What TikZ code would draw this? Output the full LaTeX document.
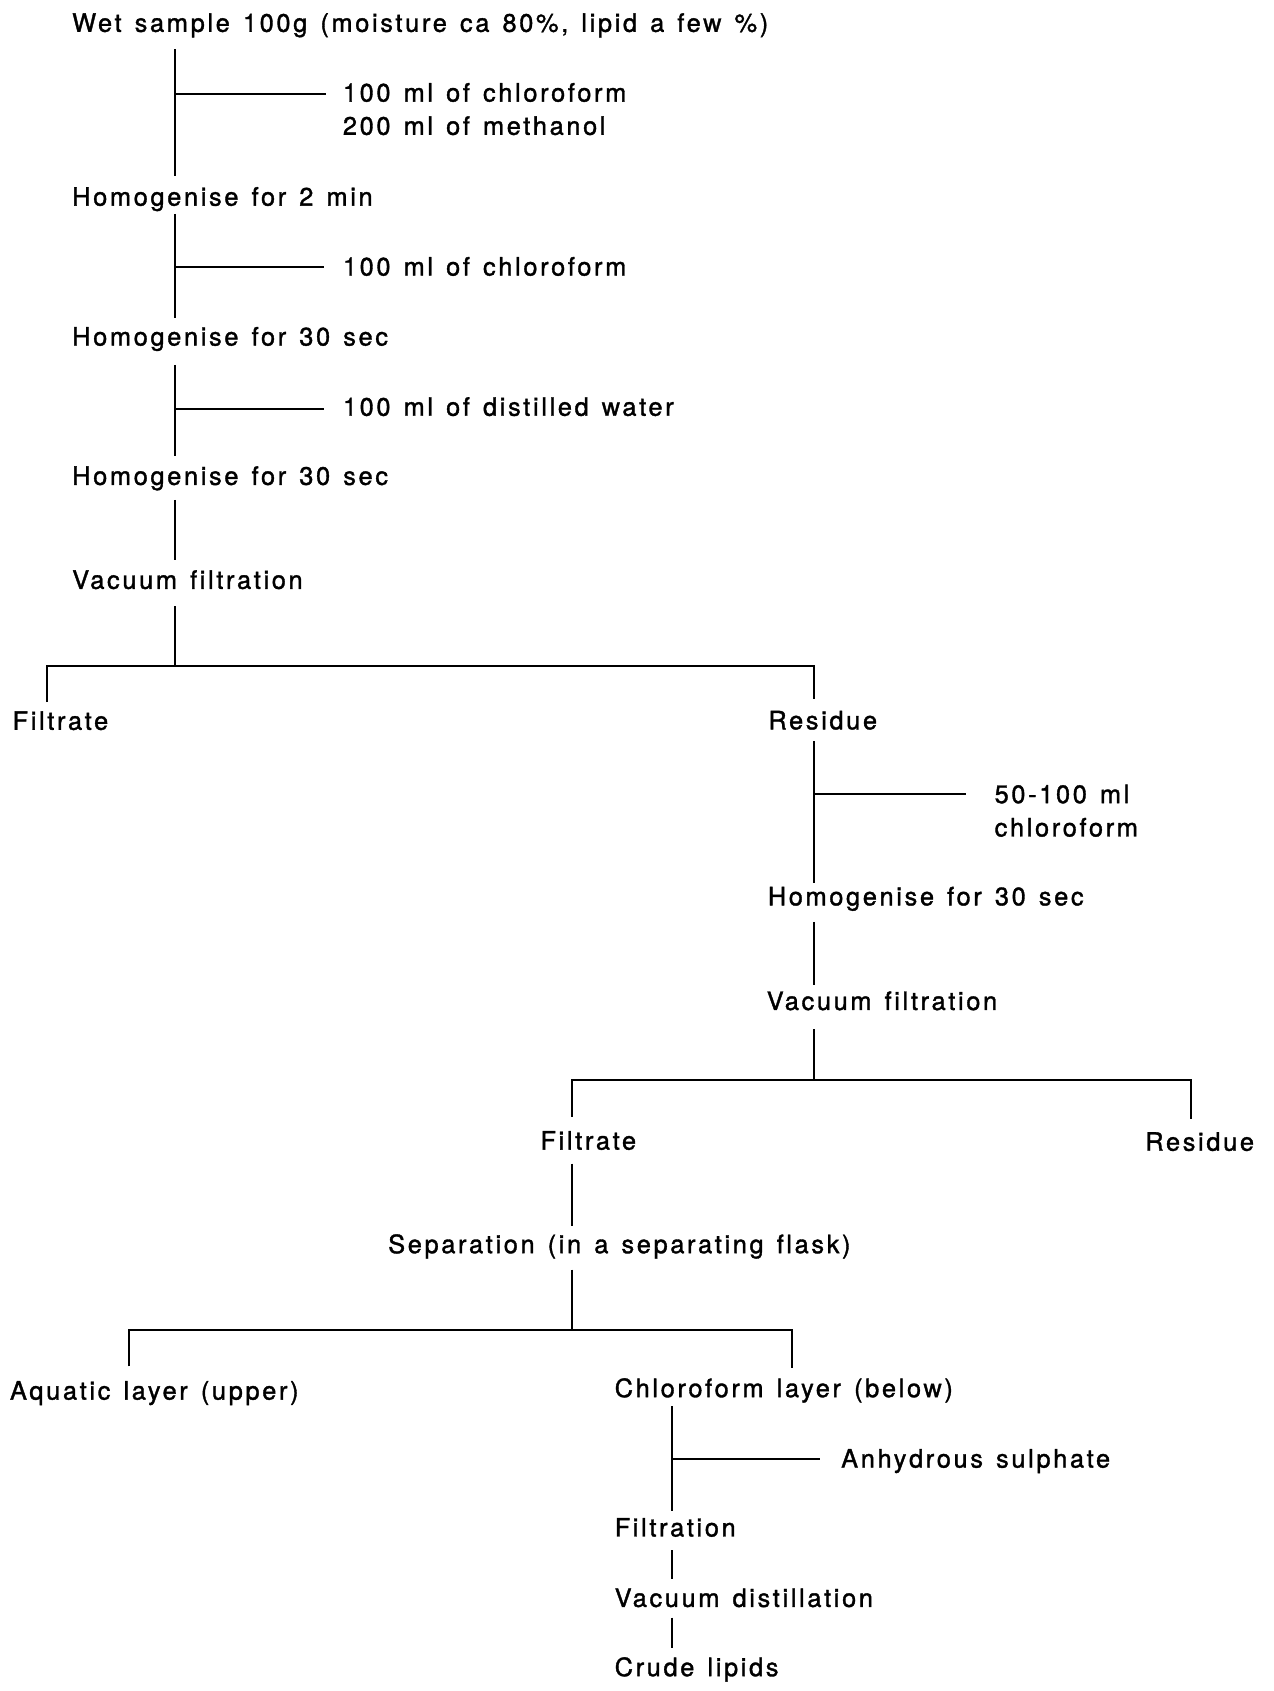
\documentclass[tikz,border=0pt]{standalone}
\usepackage{fontspec}
\setmainfont{TeX Gyre Heros}[LetterSpace=10.5,WordSpace=1.35,FakeBold=1.4,Ligatures=NoCommon]
\usetikzlibrary{calc}
\begin{document}
\begin{tikzpicture}[x=1bp,y=-1bp,
  txt/.style={anchor=base west, inner sep=0pt, outer sep=0pt, font=\fontsize{23.5bp}{28bp}\selectfont},
  conn/.style={draw=black, line width=1.8bp}]
\useasboundingbox (0,0) rectangle (1181,1568);
% spines and bars
\coordinate (X1) at (162.5,0);
\coordinate (XL1) at (43.3,0);
\coordinate (XR1) at (754.5,0);
\coordinate (XL2) at (530.8,0);
\coordinate (XR2) at (1104,0);
\coordinate (XL3) at (119.6,0);
\coordinate (XR3) at (734,0);
\coordinate (X4) at (623,0);
\coordinate (B1) at (0,617.4);
\coordinate (B2) at (0,1001.7);
\coordinate (B3) at (0,1233.5);
% texts
\node[txt] (t1) at (67,29.5) {Wet sample 100g (moisture ca 80\%, lipid a few \%)};
\node[txt] (a1a) at (318,94.2) {100 ml of chloroform};
\node[txt] (a1b) at (318,125) {200 ml of methanol};
\node[txt] (h1) at (67,190.7) {Homogenise for 2 min};
\node[txt] (a2) at (318,255.5) {100 ml of chloroform};
\node[txt] (h2) at (67,320.4) {Homogenise for 30 sec};
\node[txt] (a3) at (318,385.5) {100 ml of distilled water};
\node[txt] (h3) at (67,449.6) {Homogenise for 30 sec};
\node[txt] (v1) at (67,546) {Vacuum filtration};
\node[txt] (f1) at (11.7,676.7) {Filtrate};
\node[txt] (r1) at (712.5,676.3) {Residue};
\node[txt] (a4a) at (922.3,744.7) {50-100 ml};
\node[txt] (a4b) at (922.3,775.6) {chloroform};
\node[txt] (h4) at (712,839.5) {Homogenise for 30 sec};
\node[txt] (v2) at (711,936.5) {Vacuum filtration};
\node[txt] (f2) at (501.2,1066) {Filtrate};
\node[txt] (r2) at (1062,1067) {Residue};
\node[txt] (s1) at (360,1162) {Separation (in a separating flask)};
\node[txt] (aq) at (9.3,1297.8) {Aquatic layer (upper)};
\node[txt] (cl) at (570,1295.5) {Chloroform layer (below)};
\node[txt] (an) at (780,1360.8) {Anhydrous sulphate};
\node[txt] (fi) at (570,1424.7) {Filtration};
\node[txt] (vd) at (570,1490) {Vacuum distillation};
\node[txt] (cr) at (570,1554.2) {Crude lipids};
% branch end points
\coordinate (a1c) at ($(a1a.base west)+(-16,-6.8)$);
\coordinate (a2c) at ($(a2.base west)+(-18,-8.3)$);
\coordinate (a3c) at ($(a3.base west)+(-18,-6)$);
\coordinate (a4c) at ($(a4a.base west)+(-27,-8.4)$);
\coordinate (anc) at ($(an.base west)+(-20,-8.1)$);
% main spine
\draw[conn] ($(t1.base -| X1)+(0,16.2)$) -- ($(h1.base -| X1)+(0,-27.8)$);
\draw[conn] (X1 |- a1c) -- (a1c);
\draw[conn] ($(h1.base -| X1)+(0,7.7)$) -- ($(h2.base -| X1)+(0,-25.4)$);
\draw[conn] (X1 |- a2c) -- (a2c);
\draw[conn] ($(h2.base -| X1)+(0,17.9)$) -- ($(h3.base -| X1)+(0,-26.9)$);
\draw[conn] (X1 |- a3c) -- (a3c);
\draw[conn] ($(h3.base -| X1)+(0,13.9)$) -- ($(v1.base -| X1)+(0,-27)$);
% first split
\draw[conn] ($(v1.base -| X1)+(0,16)$) -- (X1 |- B1);
\draw[conn] ($(f1.base -| XL1)+(0,-25.7)$) -- (XL1 |- B1) -- (XR1 |- B1) -- ($(r1.base -| XR1)+(0,-28.5)$);
% residue branch
\draw[conn] ($(r1.base -| XR1)+(0,11.2)$) -- ($(h4.base -| XR1)+(0,-21.2)$);
\draw[conn] (XR1 |- a4c) -- (a4c);
\draw[conn] ($(h4.base -| XR1)+(0,15.4)$) -- ($(v2.base -| XR1)+(0,-23)$);
% second split
\draw[conn] ($(v2.base -| XR1)+(0,18)$) -- (XR1 |- B2);
\draw[conn] ($(f2.base -| XL2)+(0,-30.3)$) -- (XL2 |- B2) -- (XR2 |- B2) -- ($(r2.base -| XR2)+(0,-29)$);
% separation
\draw[conn] ($(f2.base -| XL2)+(0,13)$) -- ($(s1.base -| XL2)+(0,-25)$);
\draw[conn] ($(s1.base -| XL2)+(0,15.2)$) -- (XL2 |- B3);
\draw[conn] ($(aq.base -| XL3)+(0,-30.9)$) -- (XL3 |- B3) -- (XR3 |- B3) -- ($(cl.base -| XR3)+(0,-27)$);
% chloroform layer
\draw[conn] ($(cl.base -| X4)+(0,8.5)$) -- ($(fi.base -| X4)+(0,-23.7)$);
\draw[conn] (X4 |- anc) -- (anc);
\draw[conn] ($(fi.base -| X4)+(0,12.7)$) -- ($(vd.base -| X4)+(0,-26)$);
\draw[conn] ($(vd.base -| X4)+(0,10)$) -- ($(cr.base -| X4)+(0,-26.2)$);
\end{tikzpicture}
\end{document}
